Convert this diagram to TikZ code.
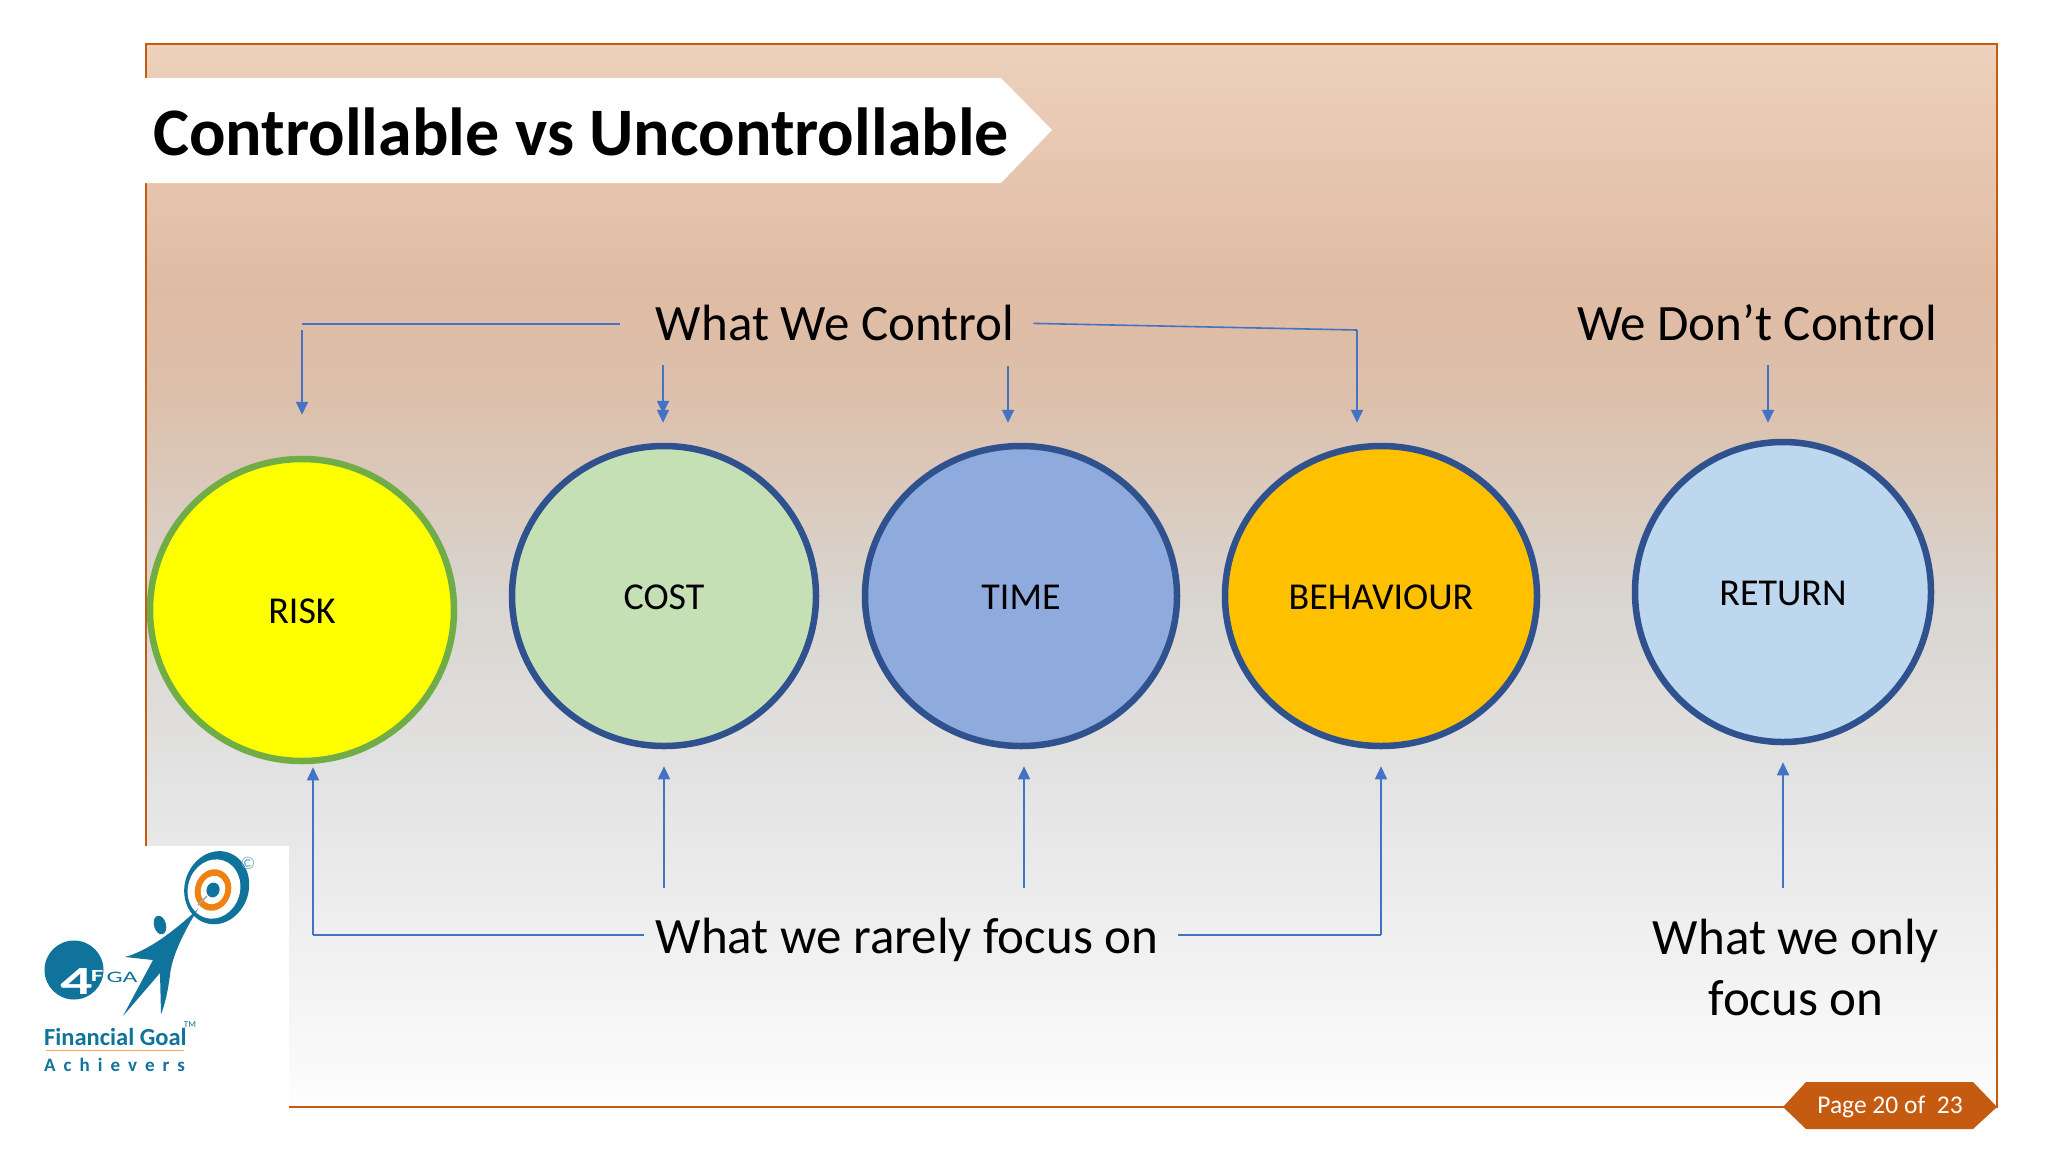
\documentclass[tikz,border=0pt]{standalone}
\usepackage{fontspec}
\setmainfont{Carlito}
\usetikzlibrary{shapes.geometric, arrows.meta}
\definecolor{rim}{HTML}{C55A11}
\definecolor{wire}{HTML}{4472C4}
\definecolor{ringblue}{HTML}{2F528F}
\definecolor{ringgreen}{HTML}{70AD47}
\definecolor{riskfill}{HTML}{FFFF00}
\definecolor{costfill}{HTML}{C5E0B4}
\definecolor{timefill}{HTML}{8FAADC}
\definecolor{behavfill}{HTML}{FFC000}
\definecolor{returnfill}{HTML}{BDD7EE}
\definecolor{logoteal}{HTML}{10739B}
\definecolor{logoorange}{HTML}{F08010}
\definecolor{bgA}{HTML}{EDD1BC}
\definecolor{bgB}{HTML}{E0BBA3}
\definecolor{bgC}{HTML}{DCC0AC}
\definecolor{bgD}{HTML}{D9D5D0}
\definecolor{bgE}{HTML}{E3E3E3}
\definecolor{bgF}{HTML}{FDFDFD}
\pgfdeclareverticalshading{slidebg}{100bp}{
  color(0bp)=(bgF);
  color(25bp)=(bgF);
  color(40.4bp)=(bgE);
  color(48.8bp)=(bgD);
  color(58.3bp)=(bgC);
  color(63.5bp)=(bgB);
  color(75bp)=(bgA);
  color(100bp)=(bgA)}
\tikzset{
  bubble/.style={ellipse, draw=ringblue, line width=6.5pt, inner sep=0pt, minimum height=300pt, text height=27pt, text depth=0pt, font=\fontsize{38}{46}\selectfont},
  caption/.style={inner sep=0pt, font=\fontsize{51}{61}\selectfont, align=center},
  link/.style={draw=wire, line width=1.6pt},
  arrow/.style={link, -{Triangle[length=13pt,width=12pt]}},
  logotext/.style={inner sep=0pt, text=logoteal}
}
\begin{document}
\begin{tikzpicture}[x=1pt, y=-1pt]
  \useasboundingbox (0, 0) rectangle (2048, 1152);
  \fill[white] (0, 0) rectangle (2048, 1152);
  \shade[shading=slidebg] (146, 44) rectangle (1997, 1107);
  \draw[rim, line width=2pt] (146, 44) rectangle (1997, 1107);

  \fill[white] (145, 78) -- (1001, 78) -- (1052, 130) -- (1001, 183) -- (145, 183) -- cycle;
  \node (title) [inner sep=0pt, font=\fontsize{68}{82}\selectfont\bfseries] at (581, 132) {Controllable vs Uncontrollable};

  \node (risk) [bubble, draw=ringgreen, fill=riskfill, minimum width=304pt, minimum height=302pt] at (302, 610) {RISK};
  \node (cost) [bubble, fill=costfill, minimum width=304pt] at (664, 596) {COST};
  \node (time) [bubble, fill=timefill, minimum width=312pt] at (1021, 596) {TIME};
  \node (behaviour) [bubble, fill=behavfill, minimum width=312pt] at (1381, 596) {BEHAVIOUR};
  \node (return) [bubble, fill=returnfill, minimum width=296pt] at (1783, 592) {RETURN};

  \node (control) [caption] at (835, 323) {What We Control};
  \node (nocontrol) [caption] at (1757, 323) {We Don’t Control};
  \node (rarely) [caption] at (907, 940) {What we rarely focus on};
  \node (only) [caption] at (1796, 967) {What we only\\focus on};

  \coordinate (riskcorner) at (302, 324);
  \coordinate (riskdrop) at (302, 330);
  \coordinate (costdrop) at (663, 365);
  \coordinate (timedrop) at (1008, 366);
  \coordinate (behavcorner) at (1357, 330);
  \coordinate (returndrop) at (1768, 365);
  \coordinate (riskcorner2) at (313, 935);
  \coordinate (costrise) at (664, 888);
  \coordinate (timerise) at (1024, 888);
  \coordinate (behavcorner2) at (1381, 935);
  \coordinate (returnrise) at (1783, 888);

  \draw[link, shorten <=36pt] (control.west |- riskcorner) -- (riskcorner);
  \draw[arrow, shorten >=41pt] (riskdrop) -- (riskdrop |- risk.north);
  \draw[arrow, shorten >=29pt] (costdrop) -- (costdrop |- cost.north);
  \draw[arrow, shorten >=20pt] (costdrop) -- (costdrop |- cost.north);
  \draw[arrow, shorten >=20pt] (timedrop) -- (timedrop |- time.north);
  \draw[link, shorten <=19pt] (control.east) -- (behavcorner);
  \draw[arrow, shorten >=20pt] (behavcorner) -- (behavcorner |- behaviour.north);
  \draw[arrow, shorten >=16pt] (returndrop) -- (returndrop |- return.north);

  \draw[link, shorten <=12pt] (rarely.west |- riskcorner2) -- (riskcorner2);
  \draw[arrow, shorten >=3pt] (riskcorner2) -- (riskcorner2 |- risk.south);
  \draw[arrow, shorten >=17pt] (costrise) -- (costrise |- cost.south);
  \draw[arrow, shorten >=17pt] (timerise) -- (timerise |- time.south);
  \draw[link, shorten <=20pt] (rarely.east |- behavcorner2) -- (behavcorner2);
  \draw[arrow, shorten >=17pt] (behavcorner2) -- (behavcorner2 |- behaviour.south);
  \draw[arrow, shorten >=17pt] (returnrise) -- (returnrise |- return.south);

  \fill[rim] (1783, 1107) -- (1806, 1082) -- (1973, 1082) -- (1997, 1107) -- (1973, 1129) -- (1806, 1129) -- cycle;
  \node (page) [inner sep=0pt, text=white, font=\fontsize{25.5}{30}\selectfont] at (1890, 1107) {Page 20 of\ \ 23};

  \fill[white] (0, 846) rectangle (289, 1152);
  \fill[logoteal, rotate around={-18:(216.7, 887.7)}] (216.7, 887.7) ellipse [x radius=32, y radius=37];
  \fill[white, rotate around={-18:(214, 889)}] (214, 889) ellipse [x radius=26, y radius=30];
  \fill[logoorange, rotate around={-18:(213, 890)}] (213, 890) ellipse [x radius=18, y radius=21];
  \fill[white, rotate around={-18:(213, 890)}] (213, 890) ellipse [x radius=12, y radius=14.5];
  \fill[logoteal, rotate around={-18:(213, 890)}] (213, 890) ellipse [x radius=6.5, y radius=7.5];
  \draw[gray!70, line width=1.5pt] (198, 905) -- (207, 896);
  \fill[logoteal, rotate around={15:(160, 925)}] (160, 925) ellipse [x radius=6, y radius=9.5];
  \fill[logoteal] (125, 957) .. controls (150, 950) and (175, 930) .. (198, 909)
    .. controls (185, 930) and (172, 955) .. (170, 975)
    .. controls (168, 990) and (165, 1005) .. (161, 1014)
    -- (160, 973) -- (123, 1016) -- (153, 960) -- cycle;
  \fill[logoteal] (74, 970) circle [radius=29.5];
  \node (four) [inner sep=0pt, text=white, xscale=1.6, font=\fontsize{40}{48}\selectfont\bfseries] at (76.5, 982) {4};
  \node (fletter) [inner sep=0pt, text=white, xscale=1.6, font=\fontsize{17}{20}\selectfont\bfseries] at (97, 976) {F};
  \node (galetters) [logotext, xscale=1.6, font=\fontsize{16}{19}\selectfont] at (122, 977) {GA};
  \node (fingoal) [logotext, anchor=west, font=\fontsize{24.5}{29}\selectfont\bfseries] at (44, 1037) {Financial Goal};
  \node (tmark) [logotext, font=\fontsize{9}{11}\selectfont] at (190, 1025) {TM};
  \draw[logoorange!70, line width=1pt] (46, 1050) -- (184, 1050);
  \node (achievers) [logotext, anchor=west, font=\fontsize{19}{23}\selectfont\bfseries] at (44, 1065) {A\hspace{8pt}c\hspace{8pt}h\hspace{8pt}i\hspace{8pt}e\hspace{8pt}v\hspace{8pt}e\hspace{8pt}r\hspace{8pt}s};
  \node (copyr) [logotext, text=logoteal!60, font=\fontsize{18}{22}\selectfont] at (248, 863) {©};
\end{tikzpicture}
\end{document}
